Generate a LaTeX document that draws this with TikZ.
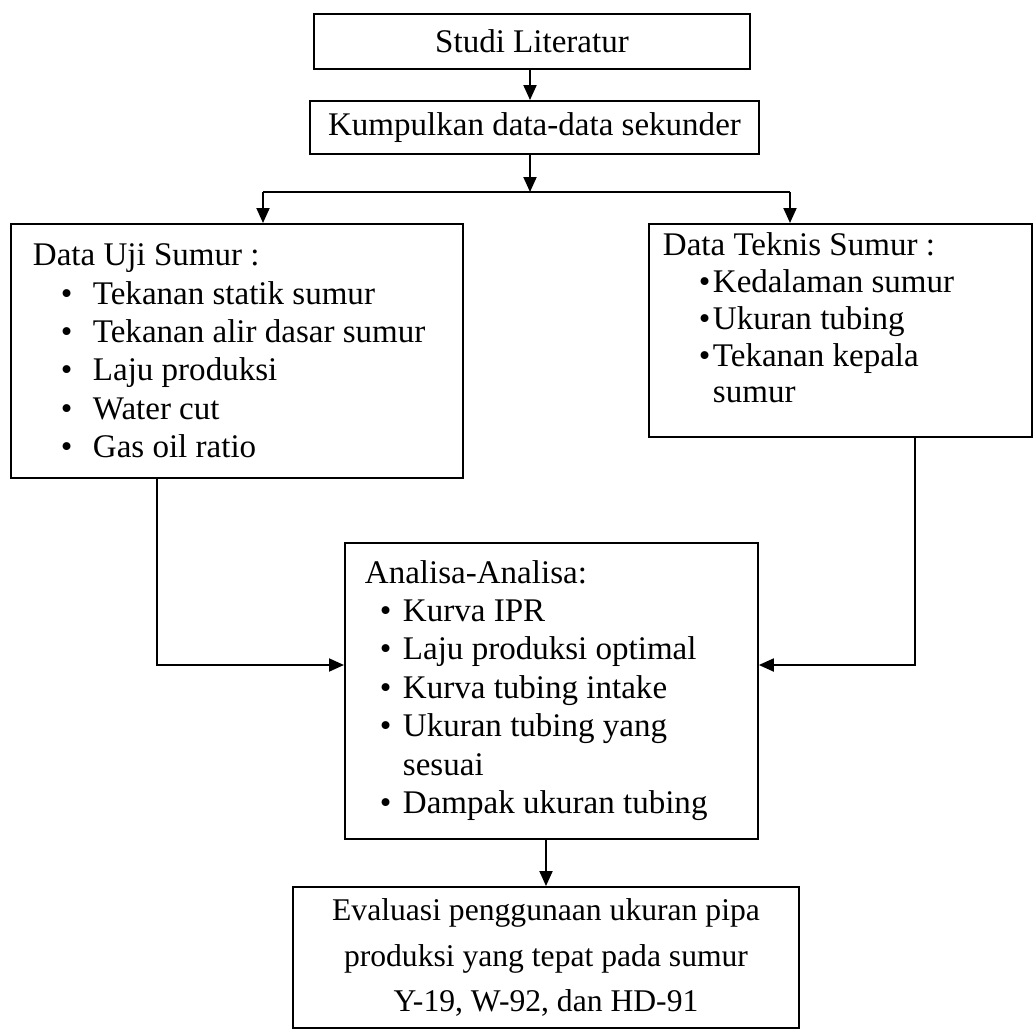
\documentclass[tikz,border=0pt]{standalone}
\usepackage{fontspec}
\setmainfont{Liberation Serif}
\usetikzlibrary{arrows.meta,positioning,calc}

% bullet item: bullet position, text position, text
\newcommand{\itm}[3]{\par\hspace*{#1}\makebox[\dimexpr#2-#1\relax][l]{\textbullet}#3}

\begin{document}
\begin{tikzpicture}[x=0.02cm, y=-0.02cm, line width=1.1pt,
    plainbox/.style={draw, rectangle, inner sep=0pt, font=\fontsize{18.8}{22}\selectfont},
    listbox/.style={draw, rectangle, inner sep=0pt, anchor=north west},
    arr/.style={-{Triangle[length=0.3cm, width=0.26cm]}}]
    \useasboundingbox (0,0) rectangle (1034,1032);
    % Top boxes
    \node[plainbox, minimum width=8.72cm, minimum height=1.1cm] (studi) at (532,41.5) {Studi Literatur};
    \node[plainbox, minimum width=8.98cm, minimum height=1.06cm] (kump) at (534.5,127.5) {Kumpulkan data-data sekunder};
    % Data boxes
    \node[listbox] (uji) at (10,223) {\parbox[c][5.08cm][t]{9.04cm}{\fontsize{18.8}{21.85}\selectfont\raggedright
        \hspace*{0.44cm}\rule{0pt}{23.8pt}Data Uji Sumur :
        \itm{1cm}{1.64cm}{Tekanan statik sumur}
        \itm{1cm}{1.64cm}{Tekanan alir dasar sumur}
        \itm{1cm}{1.64cm}{Laju produksi}
        \itm{1cm}{1.64cm}{Water cut}
        \itm{1cm}{1.64cm}{Gas oil ratio}}};
    \node[listbox] (teknis) at (648,223) {\parbox[c][4.26cm][t]{7.66cm}{\fontsize{18.8}{20.9}\selectfont\raggedright
        \hspace*{0.28cm}\rule{0pt}{18.2pt}Data Teknis Sumur :
        \itm{1cm}{1.28cm}{Kedalaman sumur}
        \itm{1cm}{1.28cm}{Ukuran tubing}
        \itm{1cm}{1.28cm}{Tekanan kepala}
        \par\hspace*{1.28cm}sumur}};
    % Analysis box
    \node[listbox] (analisa) at (344,542) {\parbox[c][5.92cm][t]{8.26cm}{\fontsize{18.8}{21.9}\selectfont\raggedright
        \hspace*{0.4cm}\rule{0pt}{22.8pt}Analisa-Analisa:
        \itm{0.7cm}{1.16cm}{Kurva IPR}
        \itm{0.7cm}{1.16cm}{Laju produksi optimal}
        \itm{0.7cm}{1.16cm}{Kurva tubing intake}
        \itm{0.7cm}{1.16cm}{Ukuran tubing yang}
        \par\hspace*{1.16cm}sesuai
        \itm{0.7cm}{1.16cm}{Dampak ukuran tubing}}};
    % Result box
    \node[plainbox, minimum width=10.12cm, minimum height=2.82cm, align=center,
        font=\fontsize{18}{26}\selectfont] (eval) at (546,957.5)
        {Evaluasi penggunaan ukuran pipa\\produksi yang tepat pada sumur\\Y-19, W-92, dan HD-91};
    % Connectors
    \coordinate (split) at (530,192);
    \coordinate (sl) at (263,192);
    \coordinate (sr) at (790,192);
    \coordinate (jl) at (157,665);
    \coordinate (jr) at (915,665);
    \draw[arr] (studi.south -| split) -- (split |- kump.north);
    \draw[arr] (split |- kump.south) -- (split);
    \draw (sl) -- (sr);
    \draw[arr] (sl) -- (sl |- uji.north);
    \draw[arr] (sr) -- (sr |- teknis.north);
    \draw[arr] (uji.south -| jl) -- (jl) -- (jl -| analisa.west);
    \draw[arr] (teknis.south -| jr) -- (jr) -- (jr -| analisa.east);
    \draw[arr] (analisa.south -| eval.north) -- (eval.north);
\end{tikzpicture}
\end{document}
